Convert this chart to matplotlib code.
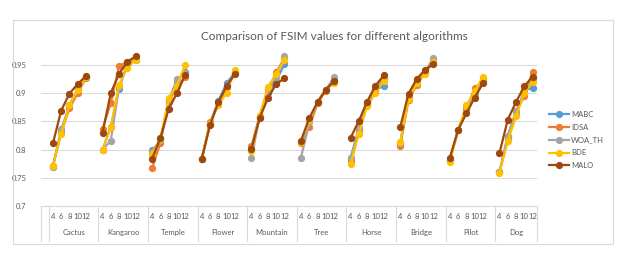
import matplotlib
matplotlib.use("Agg")
import matplotlib.pyplot as plt
import matplotlib.transforms as mtransforms
from matplotlib.patches import Rectangle
import numpy as np

plt.rcParams["font.family"] = ["Lato", "DejaVu Sans"]

# datos
imagenes = ["Cactus", "Kangaroo", "Temple", "Flower", "Mountain",
            "Tree", "Horse", "Bridge", "Pilot", "Dog"]
umbrales = ["4", "6", "8", "10", "12"]

mabc = [
    0.770, 0.832, 0.878, 0.908, 0.928,
    0.800, 0.840, 0.908, 0.952, 0.958,
    0.799, 0.815, 0.888, 0.919, 0.938,
    0.784, 0.846, 0.886, 0.917, 0.937,
    0.802, 0.858, 0.900, 0.922, 0.951,
    0.814, 0.850, 0.884, 0.905, 0.922,
    0.786, 0.834, 0.880, 0.905, 0.913,
    0.812, 0.892, 0.918, 0.938, 0.955,
    0.782, 0.835, 0.872, 0.900, 0.924,
    0.760, 0.820, 0.862, 0.905, 0.909,
]
idsa = [
    0.772, 0.830, 0.873, 0.900, 0.927,
    0.837, 0.882, 0.948, 0.955, 0.962,
    0.768, 0.812, 0.884, 0.912, 0.928,
    0.784, 0.849, 0.880, 0.910, 0.935,
    0.806, 0.860, 0.903, 0.937, 0.961,
    0.811, 0.840, 0.882, 0.904, 0.924,
    0.780, 0.836, 0.882, 0.908, 0.925,
    0.806, 0.888, 0.914, 0.936, 0.958,
    0.782, 0.835, 0.872, 0.909, 0.920,
    0.760, 0.825, 0.868, 0.894, 0.938,
]
woa_th = [
    0.770, 0.836, 0.878, 0.905, 0.928,
    0.800, 0.816, 0.910, 0.950, 0.960,
    0.796, 0.817, 0.887, 0.924, 0.935,
    0.784, 0.846, 0.884, 0.912, 0.936,
    0.785, 0.858, 0.907, 0.928, 0.966,
    0.786, 0.848, 0.884, 0.906, 0.928,
    0.786, 0.838, 0.882, 0.906, 0.924,
    0.812, 0.892, 0.918, 0.938, 0.962,
    0.782, 0.835, 0.870, 0.898, 0.922,
    0.760, 0.822, 0.866, 0.900, 0.925,
]
bde = [
    0.772, 0.828, 0.879, 0.906, 0.929,
    0.799, 0.840, 0.915, 0.945, 0.958,
    0.793, 0.818, 0.891, 0.913, 0.950,
    0.784, 0.845, 0.879, 0.900, 0.940,
    0.797, 0.860, 0.911, 0.934, 0.958,
    0.814, 0.852, 0.885, 0.906, 0.918,
    0.774, 0.828, 0.877, 0.900, 0.922,
    0.8135, 0.890, 0.917, 0.934, 0.955,
    0.778, 0.835, 0.878, 0.903, 0.929,
    0.759, 0.815, 0.859, 0.900, 0.919,
]
malo = [
    0.811, 0.869, 0.899, 0.916, 0.930,
    0.830, 0.900, 0.934, 0.955, 0.965,
    0.784, 0.821, 0.872, 0.900, 0.932,
    0.784, 0.843, 0.884, 0.912, 0.934,
    0.801, 0.856, 0.891, 0.916, 0.926,
    0.816, 0.856, 0.884, 0.906, 0.921,
    0.821, 0.851, 0.885, 0.913, 0.931,
    0.840, 0.899, 0.925, 0.941, 0.951,
    0.786, 0.835, 0.864, 0.892, 0.917,
    0.794, 0.853, 0.884, 0.912, 0.929,
]

series = [("MABC", mabc, "#5B9BD5"), ("IDSA", idsa, "#ED7D31"),
          ("WOA_TH", woa_th, "#A5A5A5"), ("BDE", bde, "#FFC000"),
          ("MALO", malo, "#9E480E")]

n_img = len(imagenes)
n_pts = len(umbrales)
paso = n_pts + 1  # cada grupo deja un hueco al final (como en Excel)
# posicion de cada categoria: hueco inicial + 6 por grupo
pos = np.array([1 + g * paso + k for g in range(n_img) for k in range(n_pts)])
n_slots = 1 + n_img * paso - 1

W, H = 629, 258
fig = plt.figure(figsize=(W / 100, H / 100), dpi=100)
fig.patches.append(Rectangle((13 / W, 1 - 244 / H), 600 / W, 224 / H,
                             transform=fig.transFigure, fill=False,
                             edgecolor="#D9D9D9", linewidth=0.8))

ax = fig.add_axes([40.5 / W, 1 - 206.3 / H, 496.2 / W, 152.9 / H])
ax.set_xlim(-0.5, n_slots - 0.5)
ax.set_ylim(0.7, 0.97)

for nombre, vals, color in series:
    vals = np.array(vals)
    for g in range(n_img):
        sl = slice(g * n_pts, (g + 1) * n_pts)
        ax.plot(pos[sl], vals[sl], color=color, lw=1.6, marker="o",
                markersize=4.2, clip_on=False,
                label=nombre if g == 0 else None)

ax.set_yticks([0.7, 0.75, 0.8, 0.85, 0.9, 0.95])
ax.set_yticklabels(["0.7", "0.75", "0.8", "0.85", "0.9", "0.95"])
ax.tick_params(axis="y", length=0, pad=10, labelsize=5.5, labelcolor="#595959")
ax.set_xticks([])
ax.grid(axis="y", color="#D9D9D9", lw=0.75)
ax.set_axisbelow(True)
for s in ["top", "right", "left"]:
    ax.spines[s].set_visible(False)
ax.spines["bottom"].set_color("#D9D9D9")
ax.spines["bottom"].set_linewidth(0.8)

# eje de categorias en dos niveles
trans = mtransforms.blended_transform_factory(ax.transData, ax.transAxes)
alto = 152.9
fila1 = -(216.7 - 206.3) / alto
fila2 = -(232.3 - 206.3) / alto
fondo = -(240.5 - 206.3) / alto
for i, p in enumerate(pos):
    ax.text(p, fila1, umbrales[i % n_pts], transform=trans, ha="center",
            va="center", fontsize=5.5, color="#595959")
bordes = [-0.5] + [0.5 + g * paso for g in range(n_img)] + [n_slots - 0.5]
for b in bordes:
    ax.plot([b, b], [0, fondo], transform=trans, color="#D9D9D9", lw=0.8,
            clip_on=False)
for g, nombre in enumerate(imagenes):
    ini = bordes[g + 1]
    fin = bordes[g + 2]
    ax.text((ini + fin) / 2, fila2, nombre, transform=trans, ha="center",
            va="center", fontsize=5.5, color="#595959")

fig.text(334.5 / W, 1 - 37 / H, "Comparison of FSIM values for different algorithms",
         ha="center", va="center", fontsize=8.5, color="#595959")

ax.legend(loc="center left", bbox_to_anchor=(545 / W, 1 - 140 / H),
          bbox_transform=fig.transFigure, frameon=False, fontsize=5.5,
          handlelength=2.6, labelspacing=0.75, handletextpad=0.3,
          labelcolor="#595959", borderpad=0)

fig.savefig("out.png", dpi=100)
